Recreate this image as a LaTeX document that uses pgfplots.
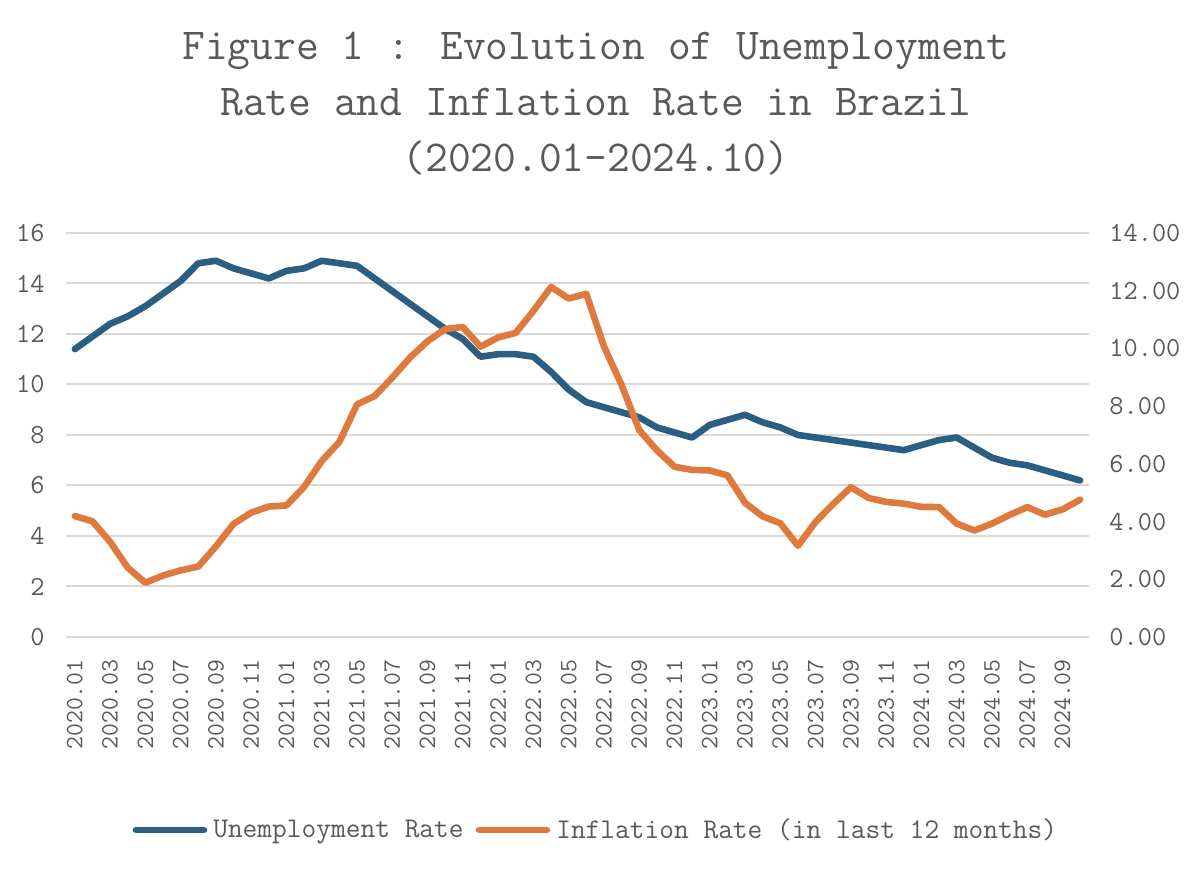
\documentclass[border=0pt]{standalone}
\usepackage{fontspec}
\renewcommand{\familydefault}{\ttdefault}
\usepackage{pgfplots}
\usepackage{pgfplotstable}
\pgfplotsset{compat=1.18}
\definecolor{ublue}{HTML}{2A5F83}
\definecolor{iorange}{HTML}{DE7A3E}
\definecolor{txt}{HTML}{595959}
\definecolor{grd}{HTML}{D9D9D9}

\pgfplotstableread{
m u i
0 11.4 4.19
1 11.9 4.01
2 12.4 3.30
3 12.7 2.40
4 13.1 1.88
5 13.6 2.13
6 14.1 2.31
7 14.8 2.44
8 14.9 3.14
9 14.6 3.92
10 14.4 4.31
11 14.2 4.52
12 14.5 4.56
13 14.6 5.20
14 14.9 6.10
15 14.8 6.76
16 14.7 8.06
17 14.2 8.35
18 13.7 8.99
19 13.2 9.68
20 12.7 10.25
21 12.2 10.67
22 11.8 10.74
23 11.1 10.06
24 11.2 10.38
25 11.2 10.54
26 11.1 11.30
27 10.5 12.13
28 9.8 11.73
29 9.3 11.89
30 9.1 10.07
31 8.9 8.73
32 8.7 7.17
33 8.3 6.47
34 8.1 5.90
35 7.9 5.79
36 8.4 5.77
37 8.6 5.60
38 8.8 4.65
39 8.5 4.18
40 8.3 3.94
41 8.0 3.16
42 7.9 3.99
43 7.8 4.61
44 7.7 5.19
45 7.6 4.82
46 7.5 4.68
47 7.4 4.62
48 7.6 4.51
49 7.8 4.50
50 7.9 3.93
51 7.5 3.69
52 7.1 3.93
53 6.9 4.23
54 6.8 4.50
55 6.6 4.24
56 6.4 4.42
57 6.2 4.76
}\datatable

\pgfplotsset{
  common/.style={
    at={(33pt,117.5pt)}, anchor=south west,
    scale only axis, width=511.5pt, height=202pt,
    xmin=-0.5, xmax=57.5, ymin=0,
    axis line style={draw=none},
    major tick length=0pt,
    tick label style={text=txt, inner sep=0pt},
  },
}

\begin{document}
\begin{tikzpicture}
\useasboundingbox (0,0) rectangle (598pt,436pt);
\node[align=center, text=txt, font=\ttfamily\fontsize{22.1}{28}\selectfont] at (298pt,384pt)
  {Figure 1 : Evolution of Unemployment\\Rate and Inflation Rate in Brazil\\(2020.01-2024.10)};

\begin{axis}[common,
  ymax=16,
  ytick={0,2,...,16},
  yticklabels={0,2,4,6,8,10,12,14,16},
  ymajorgrids, grid style={color=grd, line width=1pt},
  yticklabel style={anchor=east, font=\ttfamily\fontsize{13.8}{16}\selectfont},
  yticklabel shift=10.5pt,
  xtick={0,2,...,56},
  xticklabels={2020.01,2020.03,2020.05,2020.07,2020.09,2020.11,2021.01,2021.03,2021.05,2021.07,2021.09,2021.11,2022.01,2022.03,2022.05,2022.07,2022.09,2022.11,2023.01,2023.03,2023.05,2023.07,2023.09,2023.11,2024.01,2024.03,2024.05,2024.07,2024.09},
  xticklabel style={rotate=90, anchor=east, font=\ttfamily\fontsize{12.5}{15}\selectfont},
  xticklabel shift=11pt,
]
\addplot[ublue, line width=3.3pt, line join=round, line cap=round] table[x=m, y=u] {\datatable};
\end{axis}

\begin{axis}[common,
  ymax=14,
  ytick={0,2,...,14},
  yticklabels={0.00,2.00,4.00,6.00,8.00,10.00,12.00,14.00},
  yticklabel pos=right,
  yticklabel style={anchor=west, font=\ttfamily\fontsize{13.8}{16}\selectfont},
  yticklabel shift=10pt,
  xtick=\empty,
  legend columns=-1,
  legend style={at={(0.517,-0.478)}, anchor=center, draw=none, fill=none,
    font=\ttfamily\fontsize{14.3}{17}\selectfont, text=txt,
    nodes={inner sep=0pt},
    /tikz/every odd column/.style={column sep=3pt},
    /tikz/every even column/.style={column sep=6pt}},
  legend image code/.code={\draw[#1, line cap=round] (0pt,0pt) -- (34pt,0pt);},
]
\addlegendimage{ublue, line width=3.3pt}
\addlegendentry{Unemployment Rate}
\addplot[iorange, line width=3.3pt, line join=round, line cap=round] table[x=m, y=i] {\datatable};
\addlegendentry{Inflation Rate (in last 12 months)}
\end{axis}
\end{tikzpicture}
\end{document}
